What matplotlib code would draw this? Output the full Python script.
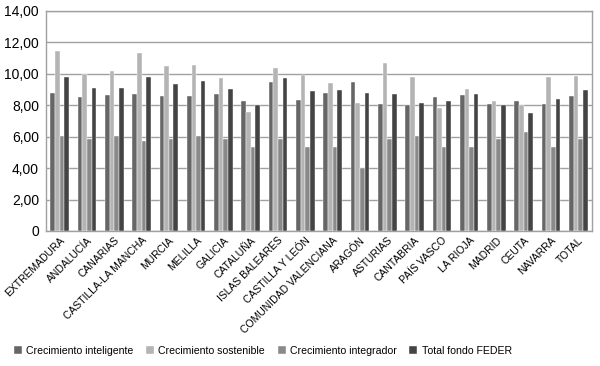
import matplotlib
matplotlib.use("Agg")
import matplotlib.pyplot as plt
import numpy as np

regiones = ["EXTREMADURA", "ANDALUCÍA", "CANARIAS", "CASTILLA-LA MANCHA", "MURCIA",
            "MELILLA", "GALICIA", "CATALUÑA", "ISLAS BALEARES", "CASTILLA Y LEÓN",
            "COMUNIDAD VALENCIANA", "ARAGÓN", "ASTURIAS", "CANTABRIA", "PAÍS VASCO",
            "LA RIOJA", "MADRID", "CEUTA", "NAVARRA", "TOTAL"]
inteligente = [8.80, 8.55, 8.66, 8.70, 8.59, 8.61, 8.72, 8.30, 9.46, 8.34,
               8.80, 9.46, 8.10, 8.04, 8.51, 8.64, 8.10, 8.27, 8.08, 8.57]
sostenible = [11.48, 9.99, 10.18, 11.31, 10.50, 10.55, 9.76, 7.57, 10.35, 9.91,
              9.44, 8.13, 10.69, 9.78, 7.85, 9.04, 8.27, 8.00, 9.78, 9.87]
integrador = [6.05, 5.88, 6.05, 5.73, 5.88, 6.05, 5.88, 5.37, 5.88, 5.37,
              5.37, 3.99, 5.88, 6.05, 5.37, 5.37, 5.88, 6.30, 5.37, 5.84]
feder = [9.78, 9.10, 9.10, 9.78, 9.36, 9.55, 9.02, 8.04, 9.72, 8.89,
         8.95, 8.76, 8.70, 8.13, 8.27, 8.70, 8.04, 7.51, 8.38, 8.98]

series = [("Crecimiento inteligente", inteligente, "#666666"),
          ("Crecimiento sostenible", sostenible, "#b4b4b4"),
          ("Crecimiento integrador", integrador, "#898989"),
          ("Total fondo FEDER", feder, "#444444")]

plt.rcParams["font.family"] = ["Liberation Sans", "DejaVu Sans"]

fig = plt.figure(figsize=(6, 3.66), dpi=100)
ax = fig.add_axes([46 / 600, 1 - 231 / 366, 546 / 600, 220 / 366])

x = np.arange(len(regiones))
w = 0.17
for i, (nombre, vals, color) in enumerate(series):
    ax.bar(x + (i - 1.5) * w, vals, width=w, color=color, label=nombre,
           edgecolor="#ffffff", linewidth=0.3, zorder=3)

ax.set_xlim(-0.5, len(regiones) - 0.5)
ax.set_ylim(0, 14)
ax.set_yticks(np.arange(0, 15, 2))
ax.set_yticklabels(["0"] + [f"{v:.2f}".replace(".", ",") for v in np.arange(2, 15, 2)],
                   fontsize=10)
ax.yaxis.grid(True, color="#a0a0a0", linewidth=1, zorder=0)
ax.tick_params(axis="y", length=0, pad=5)
ax.tick_params(axis="x", length=0, pad=3)
ax.set_xticks(x)
ax.set_xticklabels(regiones, rotation=45, ha="right", rotation_mode="anchor", fontsize=7.5)
for s in ax.spines.values():
    s.set_color("#a0a0a0")
    s.set_linewidth(1)

# leyenda desplazada a la izquierda como en el original
fig.legend(loc="center", bbox_to_anchor=(263 / 600, 1 - 351 / 366), ncol=4, frameon=False,
           fontsize=7.6, handlelength=0.75, handleheight=0.75, handletextpad=0.4,
           columnspacing=1.2)

fig.savefig("out.png", dpi=100)
